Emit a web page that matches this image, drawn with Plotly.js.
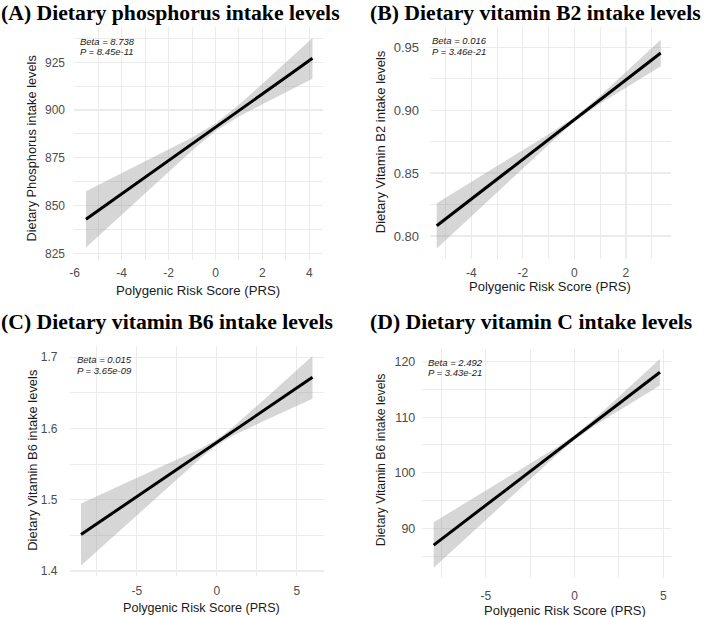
<!DOCTYPE html>
<html>
<head>
<meta charset="utf-8">
<script src="https://cdn.plot.ly/plotly-3.0.1.min.js"></script>
<style>
  html, body { margin: 0; padding: 0; background: #ffffff; }
  #chart { width: 708px; height: 617px; }
</style>
</head>
<body>
<div id="chart"></div>
<script>
// ---- Text ----
const panelTitles = [
  '(A) Dietary phosphorus intake levels',
  '(B) Dietary vitamin B2 intake levels',
  '(C) Dietary vitamin B6 intake levels',
  '(D) Dietary vitamin C intake levels'
];
const yTitles = [
  'Dietary Phosphorus intake levels',
  'Dietary Vitamin B2 intake levels',
  'Dietary Vitamin B6 intake levels',
  'Dietary Vitamin B6 intake levels'
];
const xTitle = 'Polygenic Risk Score (PRS)';
const betas = ['8.738', '0.016', '0.015', '2.492'];
const pvals = ['8.45e-11', '3.46e-21', '3.65e-09', '3.43e-21'];

// ---- (A) phosphorus: fitted line and 95% band ----
const prsA = [-5.52, -4, -3, -2, -1, 0, 1, 2, 3, 4.13];
const fitA = [842.8, 856.0, 864.8, 873.5, 882.3, 891.0, 899.7, 908.5, 917.2, 927.1];
const lowA = [828.1, 845.2, 856.5, 867.7, 878.8, 889.0, 896.6, 903.1, 909.4, 916.4];
const upA  = [857.5, 866.9, 873.1, 879.3, 885.7, 893.0, 902.8, 913.8, 925.0, 937.8];

// ---- (B) vitamin B2 ----
const prsB = [-5.34, -4, -3, -2, -1, 0, 1, 2, 3.35];
const fitB = [0.8081, 0.8293, 0.8451, 0.8609, 0.8767, 0.8925, 0.9083, 0.9241, 0.9454];
const lowB = [0.7901, 0.8156, 0.8347, 0.8537, 0.8726, 0.8909, 0.9052, 0.9179, 0.9349];
const upB  = [0.8261, 0.8430, 0.8555, 0.8681, 0.8808, 0.8941, 0.9114, 0.9303, 0.9559];

// ---- (C) vitamin B6 ----
const prsC = [-8.48, -7, -5, -3, -1, 0, 1, 3, 5, 5.98];
const fitC = [1.4510, 1.4736, 1.5041, 1.5346, 1.5651, 1.5804, 1.5957, 1.6262, 1.6567, 1.6717];
const lowC = [1.4075, 1.4375, 1.4781, 1.5185, 1.5583, 1.5764, 1.5896, 1.6110, 1.6316, 1.6417];
const upC  = [1.4945, 1.5097, 1.5302, 1.5507, 1.5719, 1.5844, 1.6018, 1.6414, 1.6818, 1.7017];

// ---- (D) vitamin C ----
const prsD = [-7.94, -6, -4, -2, -1, 0, 1, 2, 3, 4.81];
const fitD = [86.98, 91.71, 96.59, 101.47, 103.91, 106.35, 108.79, 111.23, 113.67, 118.09];
const lowD = [82.88, 88.58, 94.46, 100.32, 103.21, 105.95, 108.20, 110.20, 112.17, 115.69];
const upD  = [91.08, 94.84, 98.72, 102.62, 104.61, 106.75, 109.39, 112.26, 115.18, 120.49];

// ---- Tick values and labels ----
const xTickA = [-6, -4, -2, 0, 2, 4];
const xLabA  = ['-6', '-4', '-2', '0', '2', '4'];
const yTickA = [825, 850, 875, 900, 925];
const yLabA  = ['825', '850', '875', '900', '925'];
const xTickB = [-4, -2, 0, 2];
const xLabB  = ['-4', '-2', '0', '2'];
const yTickB = [0.80, 0.85, 0.90, 0.95];
const yLabB  = ['0.80', '0.85', '0.90', '0.95'];
const xTickC = [-5, 0, 5];
const xLabC  = ['-5', '0', '5'];
const yTickC = [1.4, 1.5, 1.6, 1.7];
const yLabC  = ['1.4', '1.5', '1.6', '1.7'];
const xTickD = [-5, 0, 5];
const xLabD  = ['-5', '0', '5'];
const yTickD = [90, 100, 110, 120];
const yLabD  = ['90', '100', '110', '120'];

// ---- Layout helpers (pixel -> paper) ----
const W = 708, H = 617;
const px = v => v / W;
const py = v => 1 - v / H;

const SANS = 'Liberation Sans, Arial, Helvetica, sans-serif';
const SERIF = 'Liberation Serif, Times New Roman, serif';
const GRID = '#EBEBEB';

const panels = [
  { x: prsA, fit: fitA, lo: lowA, hi: upA,
    xr: [-6.03, 4.58], yr: [821.5, 943.5],
    dom: { x: [74, 323], y: [27, 260] },
    xt: [xTickA, xLabA, 1], yt: [yTickA, yLabA, 12.5],
    xSize: 12, ySize: 12, ySo: 8, xSo: 4,
    title: { x: 0, y: 12.5 }, note: { x: 78, y: [41.5, 51.7] },
    xTitle: { x: 198, y: 290, s: 13.2 }, yTitle: { x: 31, y: 148.5, s: 12.8 } },
  { x: prsB, fit: fitB, lo: lowB, hi: upB,
    xr: [-5.60, 3.76], yr: [0.7817, 0.9661],
    dom: { x: [430, 671.3], y: [27, 259] },
    xt: [xTickB, xLabB, 1], yt: [yTickB, yLabB, 0.025],
    xSize: 12, ySize: 13, ySo: 10, xSo: 5,
    title: { x: 369, y: 12.5 }, note: { x: 430, y: [41, 51.7] },
    xTitle: { x: 549.5, y: 287, s: 13 }, yTitle: { x: 380.7, y: 141.5, s: 13 } },
  { x: prsC, fit: fitC, lo: lowC, hi: upC,
    xr: [-9.2, 6.7], yr: [1.3928, 1.7164],
    dom: { x: [69.5, 324], y: [345.5, 576] },
    xt: [xTickC, xLabC, 2.5], yt: [yTickC, yLabC, 0.05],
    xSize: 12, ySize: 12, ySo: 11, xSo: 6,
    title: { x: 0, y: 322 }, note: { x: 75, y: [359.7, 370] },
    xTitle: { x: 201.7, y: 608.3, s: 12.6 }, yTitle: { x: 31.7, y: 460, s: 12.9 } },
  { x: prsD, fit: fitD, lo: lowD, hi: upD,
    xr: [-8.58, 5.45], yr: [81.0, 122.37],
    dom: { x: [422.3, 671.3], y: [348.5, 578.3] },
    xt: [xTickD, xLabD, 2.5], yt: [yTickD, yLabD, 5],
    xSize: 12, ySize: 12.5, ySo: 6, xSo: 9,
    title: { x: 369, y: 322 }, note: { x: 426.3, y: [362.7, 372.7] },
    xTitle: { x: 564.8, y: 610, s: 13 }, yTitle: { x: 380.7, y: 459.5, s: 12.3 } }
];

function axis(range, domain, ticks, anchor, size, standoff) {
  return {
    range: range, domain: domain, anchor: anchor,
    tickmode: 'array', tickvals: ticks[0], ticktext: ticks[1],
    showgrid: true, gridcolor: GRID, gridwidth: 1.3,
    minor: { tick0: 0, dtick: ticks[2], showgrid: true, gridcolor: GRID, gridwidth: 1 },
    zeroline: false, showline: false, ticks: '',
    ticklabelstandoff: standoff,
    tickfont: { family: SANS, size: size, color: '#4D4D4D' },
    fixedrange: true
  };
}

const traces = [];
const layout = {
  width: W, height: H,
  margin: { l: 0, r: 0, t: 0, b: 0 },
  paper_bgcolor: '#ffffff', plot_bgcolor: '#ffffff',
  showlegend: false,
  annotations: []
};

panels.forEach((p, i) => {
  const n = i === 0 ? '' : String(i + 1);
  const xa = 'x' + n, ya = 'y' + n;

  // confidence band: lower edge, then upper edge filled down to it
  traces.push({ x: p.x, y: p.lo, xaxis: xa, yaxis: ya, mode: 'lines',
    line: { width: 0, color: 'rgba(0,0,0,0)' }, hoverinfo: 'skip' });
  traces.push({ x: p.x, y: p.hi, xaxis: xa, yaxis: ya, mode: 'lines',
    line: { width: 0, color: 'rgba(0,0,0,0)' }, fill: 'tonexty',
    fillcolor: 'rgba(153,153,153,0.4)', hoverinfo: 'skip' });
  // regression line
  traces.push({ x: p.x, y: p.fit, xaxis: xa, yaxis: ya, mode: 'lines',
    line: { width: 3, color: '#000000' } });

  layout['xaxis' + n] = axis(p.xr, [px(p.dom.x[0]), px(p.dom.x[1])], p.xt, ya, p.xSize, p.xSo);
  layout['yaxis' + n] = axis(p.yr, [py(p.dom.y[1]), py(p.dom.y[0])], p.yt, xa, p.ySize, p.ySo);

  layout.annotations.push({
    xref: 'paper', yref: 'paper', x: px(p.title.x), y: py(p.title.y),
    xanchor: 'left', yanchor: 'middle', showarrow: false, borderpad: 0,
    text: '<b>' + panelTitles[i] + '</b>',
    font: { family: SERIF, size: 21.7, color: '#000000' }
  });
  layout.annotations.push({
    xref: 'paper', yref: 'paper', x: px(p.xTitle.x), y: py(p.xTitle.y),
    xanchor: 'center', yanchor: 'middle', showarrow: false,
    text: xTitle, font: { family: SANS, size: p.xTitle.s, color: '#1A1A1A' }
  });
  layout.annotations.push({
    xref: 'paper', yref: 'paper', x: px(p.yTitle.x), y: py(p.yTitle.y),
    xanchor: 'center', yanchor: 'middle', showarrow: false, textangle: -90,
    text: yTitles[i], font: { family: SANS, size: p.yTitle.s, color: '#1A1A1A' }
  });
  layout.annotations.push({
    xref: 'paper', yref: 'paper', x: px(p.note.x), y: py(p.note.y[0]),
    xanchor: 'left', yanchor: 'middle', showarrow: false,
    text: '<i>Beta = ' + betas[i] + '</i>',
    font: { family: SANS, size: 9.5, color: '#222222' }
  });
  layout.annotations.push({
    xref: 'paper', yref: 'paper', x: px(p.note.x), y: py(p.note.y[1]),
    xanchor: 'left', yanchor: 'middle', showarrow: false,
    text: '<i>P = ' + pvals[i] + '</i>',
    font: { family: SANS, size: 9.5, color: '#222222' }
  });
});

Plotly.newPlot('chart', traces, layout, { staticPlot: true, displayModeBar: false });
</script>
</body>
</html>
